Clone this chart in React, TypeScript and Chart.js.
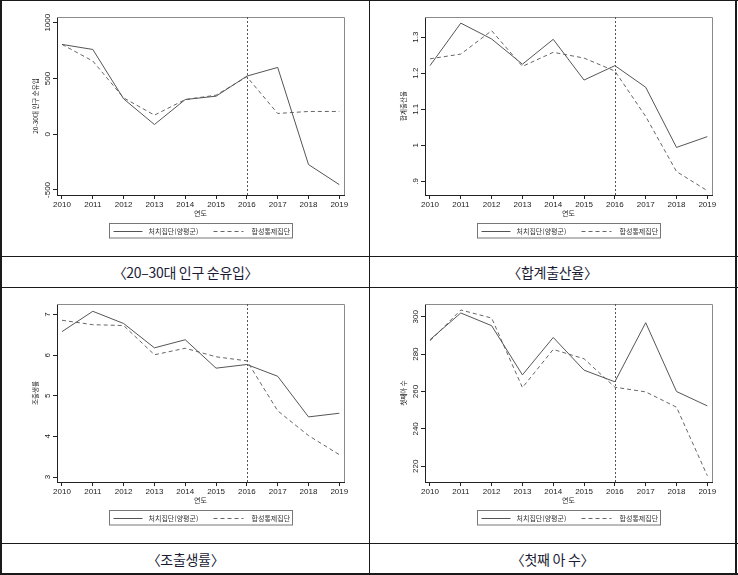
import React, { useEffect, useRef } from 'react';
import { Chart, registerables } from 'chart.js';

Chart.register(...registerables);

// ---------- data ----------
const years = [2010, 2011, 2012, 2013, 2014, 2015, 2016, 2017, 2018, 2019];
const treatmentYear = 2016;
const treatLabel = '처치집단(양평군)';
const synthLabel = '합성통제집단';
const xTitle = '연도';

const netMigTreat = [805, 760, 317, 87, 311, 341, 521, 599, -272, -452];
const netMigSynth = [805, 656, 326, 171, 311, 350, 515, 186, 204, 204];
const netMigTicks = [-500, 0, 500, 1000];
const netMigTickLabels = ['-500', '0', '500', '1000'];

const tfrTreat = [1.221, 1.339, 1.295, 1.225, 1.294, 1.181, 1.221, 1.161, 0.994, 1.024];
const tfrSynth = [1.24, 1.253, 1.318, 1.219, 1.258, 1.242, 1.206, 1.08, 0.927, 0.874];
const tfrTicks = [0.9, 1, 1.1, 1.2, 1.3];
const tfrTickLabels = ['.9', '1', '1.1', '1.2', '1.3'];

const cbrTreat = [6.58, 7.08, 6.78, 6.18, 6.38, 5.68, 5.77, 5.48, 4.48, 4.57];
const cbrSynth = [6.86, 6.75, 6.73, 6.01, 6.17, 5.96, 5.86, 4.63, 4.02, 3.55];
const cbrTicks = [3, 4, 5, 6, 7];
const cbrTickLabels = ['3', '4', '5', '6', '7'];

const firstTreat = [287.7, 302, 295.2, 268.9, 288.9, 271.4, 265.2, 296.8, 260, 252.3];
const firstSynth = [287.1, 303.6, 299.3, 262.1, 282.5, 277.5, 262.3, 259.8, 251.6, 215];
const firstTicks = [220, 240, 260, 280, 300];
const firstTickLabels = ['220', '240', '260', '280', '300'];

const captions = ['〈20–30대 인구 순유입〉', '〈합계출산율〉', '〈조출생률〉', '〈첫째 아 수〉'];
const yTitles = ['20-30대 인구 순유입', '합계출산율', '조출생률', '첫째아 수'];

type PanelProps = {
  left: number;
  top: number;
  width: number;
  height: number;
  yTitle: string;
  ticks: number[];
  tickLabels: string[];
  min: number;
  max: number;
  treat: number[];
  synth: number[];
};

const FONT = 'Arial, "Liberation Sans", "Noto Sans CJK KR", sans-serif';
const KFONT = '"Noto Sans CJK KR", "Liberation Sans", sans-serif';

function Panel(p: PanelProps) {
  const ref = useRef<HTMLCanvasElement | null>(null);
  useEffect(() => {
    const canvas = ref.current!;
    const overlay = {
      id: 'overlay',
      beforeDatasetsDraw(chart: any) {
        const { ctx, chartArea } = chart;
        const { left, right, top, bottom } = chartArea;
        ctx.save();
        // frame top / right
        ctx.strokeStyle = '#8a8a8a';
        ctx.lineWidth = 1;
        ctx.beginPath();
        ctx.moveTo(left, top + 0.5);
        ctx.lineTo(right + 0.5, top + 0.5);
        ctx.lineTo(right + 0.5, bottom);
        ctx.stroke();
        // vertical treatment line
        const x = Math.round(chart.scales.x.getPixelForValue(treatmentYear)) + 0.5;
        ctx.strokeStyle = '#555';
        ctx.setLineDash([2, 2]);
        ctx.beginPath();
        ctx.moveTo(x, top);
        ctx.lineTo(x, bottom);
        ctx.stroke();
        ctx.restore();
      },
      afterDraw(chart: any) {
        const { ctx, chartArea } = chart;
        const { left, right, top, bottom } = chartArea;
        const cx = (left + right) / 2;
        const cy = (top + bottom) / 2;
        const ys = chart.scales.y;
        ctx.save();
        // y tick labels rotated
        ctx.fillStyle = '#222';
        ctx.font = `8px ${FONT}`;
        ctx.textAlign = 'center';
        ctx.textBaseline = 'alphabetic';
        ys.ticks.forEach((t: any) => {
          const y = ys.getPixelForValue(t.value);
          ctx.save();
          ctx.translate(left - 7.5, y);
          ctx.rotate(-Math.PI / 2);
          ctx.fillText(p.tickLabels[p.ticks.indexOf(t.value)] ?? String(t.value), 0, 0);
          ctx.restore();
        });
        // y title
        ctx.save();
        ctx.font = `6.5px ${KFONT}`;
        ctx.fillStyle = '#222';
        ctx.textBaseline = 'middle';
        ctx.translate(34, cy);
        ctx.rotate(-Math.PI / 2);
        ctx.fillText(p.yTitle, 0, 0);
        ctx.restore();
        // x title
        ctx.font = `7px ${KFONT}`;
        ctx.textBaseline = 'middle';
        ctx.textAlign = 'center';
        ctx.fillText(xTitle, cx, bottom + 18.5);
        // legend
        const bw = 183;
        const bh = 14.5;
        const bx = Math.round(cx - bw / 2) + 0.5;
        const by = Math.round(bottom + 28) + 0.5;
        ctx.strokeStyle = '#777';
        ctx.lineWidth = 1;
        ctx.strokeRect(bx, by, bw, bh);
        const my = Math.round(by + bh / 2) + 0.5;
        const ds = chart.data.datasets;
        ctx.strokeStyle = ds[0].borderColor;
        ctx.setLineDash([]);
        ctx.beginPath();
        ctx.moveTo(bx + 4, my);
        ctx.lineTo(bx + 33, my);
        ctx.stroke();
        ctx.strokeStyle = ds[1].borderColor;
        ctx.setLineDash(ds[1].borderDash);
        ctx.beginPath();
        ctx.moveTo(bx + 104, my);
        ctx.lineTo(bx + 134, my);
        ctx.stroke();
        ctx.setLineDash([]);
        ctx.fillStyle = '#333';
        ctx.font = `7px ${KFONT}`;
        ctx.textAlign = 'left';
        ctx.textBaseline = 'middle';
        ctx.fillText(ds[0].label, bx + 39, my);
        ctx.fillText(ds[1].label, bx + 142, my);
        ctx.restore();
      },
    };
    const chart = new Chart(canvas, {
      type: 'line',
      data: {
        datasets: [
          {
            label: treatLabel,
            data: years.map((y, i) => ({ x: y, y: p.treat[i] })),
            borderColor: '#555',
            borderWidth: 1,
            pointRadius: 0,
            tension: 0,
          },
          {
            label: synthLabel,
            data: years.map((y, i) => ({ x: y, y: p.synth[i] })),
            borderColor: '#666',
            borderWidth: 1,
            borderDash: [4, 3],
            pointRadius: 0,
            tension: 0,
          },
        ],
      },
      options: {
        responsive: false,
        animation: false,
        devicePixelRatio: 1,
        layout: { padding: { left: 0, top: 17, right: p.width - 342, bottom: 39 } },
        plugins: { legend: { display: false }, tooltip: { enabled: false } },
        scales: {
          x: {
            type: 'linear',
            min: 2009.838,
            max: 2019.152,
            afterBuildTicks: (s: any) => {
              s.ticks = years.map((v) => ({ value: v }));
            },
            afterFit: (s: any) => {
              s.height = 22;
            },
            ticks: {
              font: { size: 8, family: FONT },
              color: '#222',
              padding: 1,
              autoSkip: false,
              maxRotation: 0,
              minRotation: 0,
              callback: (v: any) => String(v),
            },
            grid: { drawOnChartArea: false, drawTicks: true, tickLength: 4, color: '#222' },
            border: { color: '#222', width: 1 },
          },
          y: {
            type: 'linear',
            min: p.min,
            max: p.max,
            afterBuildTicks: (s: any) => {
              s.ticks = p.ticks.map((v) => ({ value: v }));
            },
            afterFit: (s: any) => {
              s.width = 55;
            },
            ticks: { display: false },
            grid: { drawOnChartArea: false, drawTicks: true, tickLength: 4, color: '#222' },
            border: { color: '#222', width: 1 },
          },
        },
      },
      plugins: [overlay],
    } as any);
    return () => chart.destroy();
  }, []);
  return (
    <canvas
      ref={ref}
      width={p.width}
      height={p.height}
      style={{ position: 'absolute', left: p.left, top: p.top, width: p.width, height: p.height }}
    />
  );
}

const line = (l: number, t: number, w: number, h: number) => (
  <div style={{ position: 'absolute', left: l, top: t, width: w, height: h, background: '#1a1a1a' }} />
);

function Caption({ left, top, width, text }: { left: number; top: number; width: number; text: string }) {
  return (
    <div
      style={{
        position: 'absolute',
        left,
        top,
        width,
        height: 30,
        lineHeight: '30px',
        textAlign: 'center',
        fontFamily: KFONT,
        fontSize: 14,
        color: '#1b1b35',
        letterSpacing: '-0.3px',
      }}
    >
      {text}
    </div>
  );
}

export default function App() {
  return (
    <div style={{ position: 'absolute', left: 0, top: 0, width: 738, height: 575, background: '#fff', overflow: 'hidden' }}>
      <Panel left={2} top={0} width={366} height={256} yTitle={yTitles[0]} ticks={netMigTicks} tickLabels={netMigTickLabels} min={-545} max={1051} treat={netMigTreat} synth={netMigSynth} />
      <Panel left={370} top={0} width={364} height={256} yTitle={yTitles[1]} ticks={tfrTicks} tickLabels={tfrTickLabels} min={0.862} max={1.356} treat={tfrTreat} synth={tfrSynth} />
      <Panel left={2} top={287} width={366} height={256} yTitle={yTitles[2]} ticks={cbrTicks} tickLabels={cbrTickLabels} min={2.877} max={7.26} treat={cbrTreat} synth={cbrSynth} />
      <Panel left={370} top={287} width={364} height={256} yTitle={yTitles[3]} ticks={firstTicks} tickLabels={firstTickLabels} min={211.6} max={306.8} treat={firstTreat} synth={firstSynth} />
      <Caption left={2} top={257} width={367} text={captions[0]} />
      <Caption left={370} top={257} width={365} text={captions[1]} />
      <Caption left={2} top={544} width={367} text={captions[2]} />
      <Caption left={370} top={544} width={365} text={captions[3]} />
      {line(0, 0, 738, 1)}
      {line(0, 0, 2, 575)}
      {line(735, 0, 2, 575)}
      {line(369, 0, 1, 575)}
      {line(0, 256, 738, 1)}
      {line(0, 287, 738, 1)}
      {line(0, 543, 738, 1)}
      {line(0, 573, 738, 2)}
    </div>
  );
}
